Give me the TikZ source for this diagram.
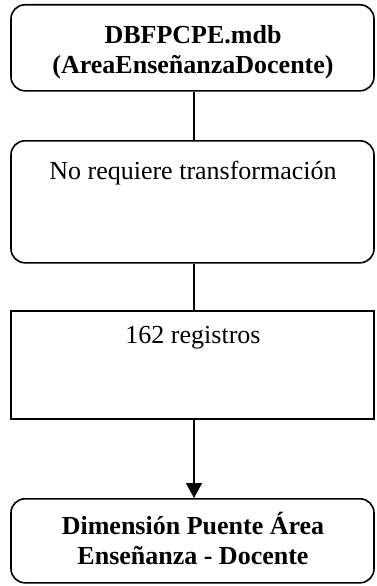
\documentclass[tikz,border=0pt]{standalone}
\usepackage{fontspec}
\setmainfont{Liberation Serif}
\usetikzlibrary{arrows.meta}
\begin{document}
\begin{tikzpicture}[x=1pt,y=-1pt,
  box/.style={draw=black,line width=1.6pt,minimum width=363pt,inner sep=0pt,anchor=north},
  rbox/.style={box,rounded corners=14pt},
  lbl/.style={font=\fontsize{26}{30}\selectfont,align=center,inner sep=0pt},
  conn/.style={line width=1.6pt}]
\useasboundingbox (0,0) rectangle (376,586);
\node[rbox,minimum height=86pt] (b1) at (192.5,4) {};
\node[rbox,minimum height=122pt] (b2) at (192.5,140) {};
\node[box,minimum height=108pt] (b3) at (192.5,310) {};
\node[rbox,minimum height=84pt] (b4) at (192.5,498) {};
\node[lbl,font=\fontsize{26}{30}\selectfont\bfseries] (t1) at (193,52) {DBFPCPE.mdb\\(AreaEnseñanzaDocente)};
\node[lbl] (t2) at (193,173) {No requiere transformación};
\node[lbl] (t3) at (193,338) {162 registros};
\node[lbl,font=\fontsize{26}{30}\selectfont\bfseries] (t4) at (193,538) {Dimensión Puente Área\\Enseñanza - Docente};
\draw[conn] (b1.south -| 194,0) -- (b2.north -| 194,0);
\draw[conn] (b2.south -| 194,0) -- (b3.north -| 194,0);
\draw[conn,-{Triangle[length=15pt,width=16pt]}] (b3.south -| 194,0) -- (b4.north -| 194,0);
\end{tikzpicture}
\end{document}
